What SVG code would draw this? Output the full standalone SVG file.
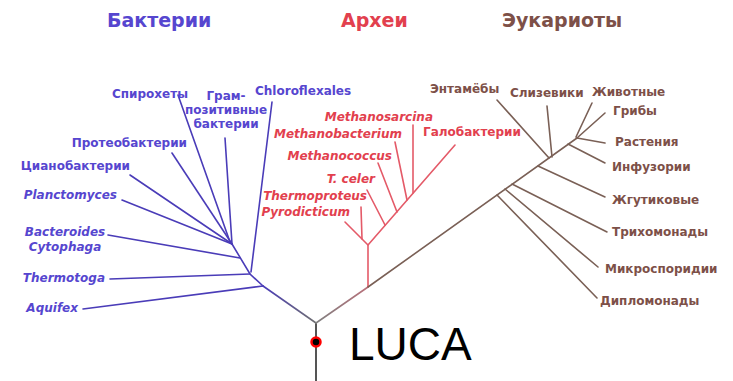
<svg xmlns="http://www.w3.org/2000/svg" width="733" height="381" viewBox="0 0 733 381">
  <style>
    .lbl { font-family: "DejaVu Sans", "Liberation Sans", sans-serif; font-weight: bold; font-size: 12px; }
    .it { font-style: italic; }
    .title { font-family: "DejaVu Sans", "Liberation Sans", sans-serif; font-weight: bold; font-size: 19px; }
    .bac { fill: #5646cf; }
    .arc { fill: #e2404e; }
    .euk { fill: #7d5048; }
    .end { text-anchor: end; }
    .mid { text-anchor: middle; }
    .lb { stroke: #4a3cb8; stroke-width: 1.6; fill: none; stroke-linecap: round; }
    .la { stroke: #e45a68; stroke-width: 1.6; fill: none; stroke-linecap: round; }
    .le { stroke: #7a6056; stroke-width: 1.6; fill: none; stroke-linecap: round; }
  </style>
  <defs>
    <!-- stems fade from the grey root into each domain colour -->
    <linearGradient id="stemBac" gradientUnits="userSpaceOnUse" x1="316" y1="323" x2="263" y2="286">
      <stop offset="0" stop-color="#707070"/>
      <stop offset="1" stop-color="#4a3cb8"/>
    </linearGradient>
    <linearGradient id="stemArc" gradientUnits="userSpaceOnUse" x1="316" y1="323" x2="368" y2="287">
      <stop offset="0" stop-color="#808080"/>
      <stop offset="1" stop-color="#b8707a"/>
    </linearGradient>
  </defs>

  <!-- domain headings -->
  <g id="domain-bacteria"><text class="title bac" x="107" y="27">Бактерии</text></g>
  <g id="domain-archaea"><text class="title arc" x="341" y="27">Археи</text></g>
  <g id="domain-eukaryota"><text class="title euk" x="502" y="27">Эукариоты</text></g>

  <!-- branches -->
  <g id="connectors">
    <!-- root stem -->
    <line x1="316" y1="323" x2="316" y2="381" stroke="#555" stroke-width="2"/>
    <!-- bacteria -->
    <line x1="316" y1="323" x2="263" y2="286" stroke="url(#stemBac)" stroke-width="1.6" stroke-linecap="round"/>
    <polyline class="lb" points="263,286 250,274 232,244"/>
    <line class="lb" x1="83" y1="309" x2="263" y2="286"/>
    <line class="lb" x1="110" y1="279" x2="250" y2="274"/>
    <line class="lb" x1="108" y1="235" x2="240" y2="258"/>
    <line class="lb" x1="272" y1="102" x2="251" y2="272"/>
    <line class="lb" x1="122" y1="200" x2="232" y2="244"/>
    <line class="lb" x1="130" y1="175" x2="232" y2="244"/>
    <line class="lb" x1="172" y1="153" x2="232" y2="244"/>
    <line class="lb" x1="178" y1="95" x2="230" y2="242"/>
    <line class="lb" x1="225" y1="138" x2="232" y2="244"/>
    <!-- archaea -->
    <line x1="316" y1="323" x2="368" y2="287" stroke="url(#stemArc)" stroke-width="1.6" stroke-linecap="round"/>
    <polyline class="la" points="368,287 368,245 455,145"/>
    <line class="la" x1="345" y1="222" x2="368" y2="245"/>
    <line class="la" x1="361" y1="207" x2="362" y2="239"/>
    <line class="la" x1="367" y1="190" x2="385" y2="225"/>
    <line class="la" x1="378" y1="163" x2="397" y2="212"/>
    <line class="la" x1="395" y1="142" x2="407" y2="200"/>
    <line class="la" x1="413" y1="125" x2="413" y2="193"/>
    <!-- eukaryotes -->
    <line class="le" x1="368" y1="287" x2="577" y2="138"/>
    <line class="le" x1="497" y1="100" x2="549" y2="158"/>
    <line class="le" x1="547" y1="106" x2="552" y2="157"/>
    <line class="le" x1="592" y1="103" x2="576" y2="137"/>
    <line class="le" x1="605" y1="113" x2="577" y2="138"/>
    <line class="le" x1="605" y1="143" x2="577" y2="138"/>
    <line class="le" x1="605" y1="163" x2="568" y2="144"/>
    <line class="le" x1="605" y1="197" x2="538" y2="166"/>
    <line class="le" x1="607" y1="232" x2="512" y2="184"/>
    <line class="le" x1="598" y1="267" x2="505" y2="189"/>
    <line class="le" x1="597" y1="298" x2="497" y2="195"/>
  </g>

  <!-- bacteria -->
  <g id="spirochetes"><text class="lbl bac end" x="188" y="98">Спирохеты</text></g>
  <g id="gram-positive">
    <text class="lbl bac mid" x="226" y="100">Грам-</text>
    <text class="lbl bac mid" x="226" y="114">позитивные</text>
    <text class="lbl bac mid" x="226" y="128">бактерии</text>
  </g>
  <g id="chloroflexales"><text class="lbl bac" x="255" y="95">Chloroflexales</text></g>
  <g id="proteobacteria"><text class="lbl bac end" x="187" y="147">Протеобактерии</text></g>
  <g id="cyanobacteria"><text class="lbl bac end" x="130" y="170">Цианобактерии</text></g>
  <g id="planctomyces"><text class="lbl it bac end" x="117" y="199">Planctomyces</text></g>
  <g id="bacteroides">
    <text class="lbl it bac mid" x="65" y="236">Bacteroides</text>
    <text class="lbl it bac mid" x="65" y="251">Cytophaga</text>
  </g>
  <g id="thermotoga"><text class="lbl it bac end" x="105" y="282">Thermotoga</text></g>
  <g id="aquifex"><text class="lbl it bac end" x="78" y="312">Aquifex</text></g>

  <!-- archaea -->
  <g id="methanosarcina"><text class="lbl it arc end" x="433" y="121">Methanosarcina</text></g>
  <g id="methanobacterium"><text class="lbl it arc end" x="402" y="138">Methanobacterium</text></g>
  <g id="halobacteria"><text class="lbl arc" x="423" y="136">Галобактерии</text></g>
  <g id="methanococcus"><text class="lbl it arc end" x="392" y="160">Methanococcus</text></g>
  <g id="t-celer"><text class="lbl it arc end" x="375" y="183">T. celer</text></g>
  <g id="thermoproteus"><text class="lbl it arc end" x="367" y="200">Thermoproteus</text></g>
  <g id="pyrodicticum"><text class="lbl it arc end" x="350" y="216">Pyrodicticum</text></g>

  <!-- eukaryotes -->
  <g id="entamoebae"><text class="lbl euk" x="430" y="93">Энтамёбы</text></g>
  <g id="slime-molds"><text class="lbl euk" x="510" y="97">Слизевики</text></g>
  <g id="animals"><text class="lbl euk" x="592" y="96">Животные</text></g>
  <g id="fungi"><text class="lbl euk" x="613" y="115">Грибы</text></g>
  <g id="plants"><text class="lbl euk" x="615" y="146">Растения</text></g>
  <g id="ciliates"><text class="lbl euk" x="612" y="171">Инфузории</text></g>
  <g id="flagellates"><text class="lbl euk" x="612" y="204">Жгутиковые</text></g>
  <g id="trichomonads"><text class="lbl euk" x="612" y="236">Трихомонады</text></g>
  <g id="microsporidia"><text class="lbl euk" x="605" y="273">Микроспоридии</text></g>
  <g id="diplomonads"><text class="lbl euk" x="600" y="305">Дипломонады</text></g>

  <!-- last universal common ancestor -->
  <g id="luca">
    <circle cx="316" cy="342" r="4.5" fill="#000" stroke="#f00" stroke-width="2.5"/>
    <text x="349" y="360" font-family="Liberation Sans, Arial, sans-serif" font-size="46" fill="#000">LUCA</text>
  </g>
</svg>
